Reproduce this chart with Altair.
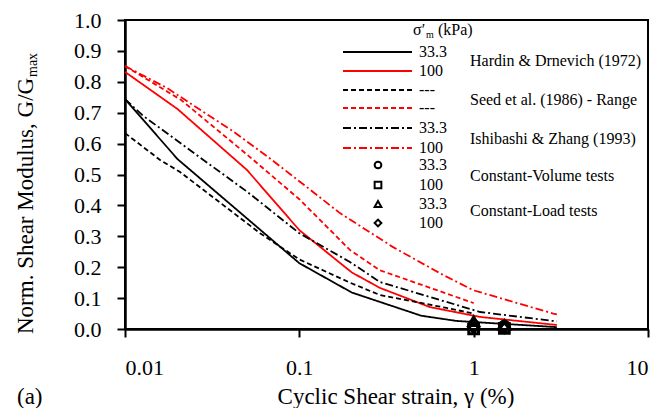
import altair as alt
import pandas as pd

# ---------------- data ----------------
hd33_gamma = [0.01, 0.02, 0.1, 0.2, 0.5, 0.8, 3.0]
hd33_G = [0.744, 0.55, 0.213, 0.118, 0.043, 0.026, 0.006]

hd100_gamma = [0.01, 0.02, 0.05, 0.1, 0.2, 0.29, 0.56, 1.09, 3.0]
hd100_G = [0.832, 0.712, 0.515, 0.32, 0.183, 0.133, 0.071, 0.039, 0.013]

seedlo_gamma = [0.01, 0.0159, 0.0207, 0.0595, 0.1, 0.195, 0.29, 0.7, 1.0]
seedlo_G = [0.634, 0.547, 0.508, 0.31, 0.225, 0.15, 0.11, 0.068, 0.05]

seedhi_gamma = [0.01, 0.021, 0.05, 0.1, 0.195, 0.29, 1.0]
seedhi_G = [0.851, 0.741, 0.565, 0.42, 0.256, 0.19, 0.084]

iz33_gamma = [0.01, 0.0127, 0.031, 0.05, 0.1, 0.195, 0.29, 1.09, 2.86, 3.0]
iz33_G = [0.744, 0.69, 0.53, 0.445, 0.31, 0.217, 0.152, 0.055, 0.026, 0.025]

iz100_gamma = [0.01, 0.0174, 0.0416, 0.065, 0.11, 0.171, 0.345, 0.667, 1.0, 2.86, 3.0]
iz100_G = [0.851, 0.78, 0.64, 0.56, 0.46, 0.375, 0.265, 0.175, 0.125, 0.05, 0.047]

cv33_gamma = [1.0, 1.5]
cv33_G = [0.012, 0.010]
cv100_gamma = [1.0, 1.5]
cv100_G = [0.0, 0.002]
cl33_gamma = [1.0, 1.5]
cl33_G = [0.025, 0.012]
cl100_gamma = [1.0, 1.5]
cl100_G = [0.005, 0.004]

x_ticks = [0.01, 0.1, 1, 10]
y_ticks = [0.0, 0.1, 0.2, 0.3, 0.4, 0.5, 0.6, 0.7, 0.8, 0.9, 1.0]

series_names = ["HD 33.3", "HD 100", "Seed lower", "Seed upper", "IZ 33.3", "IZ 100"]
series_data = [(hd33_gamma, hd33_G), (hd100_gamma, hd100_G), (seedlo_gamma, seedlo_G),
               (seedhi_gamma, seedhi_G), (iz33_gamma, iz33_G), (iz100_gamma, iz100_G)]
series_labels = ["33.3", "100", "---", "---", "33.3", "100"]

test_names = ["CV 33.3", "CV 100", "CL 33.3", "CL 100"]
test_data = [(cv33_gamma, cv33_G), (cv100_gamma, cv100_G), (cl33_gamma, cl33_G), (cl100_gamma, cl100_G)]
test_labels = ["33.3", "100", "33.3", "100"]

group_labels = ["Hardin & Drnevich (1972)", "Seed et al. (1986) - Range",
                "Ishibashi & Zhang (1993)", "Constant-Volume tests", "Constant-Load tests"]

# ---------------- styles ----------------
FONT = "Liberation Serif"
colors = ["#000000", "#ff0000", "#000000", "#ff0000", "#000000", "#ff0000"]
dashes = [[1, 0], [1, 0], [5, 3], [5, 3], [8, 3, 2, 3], [8, 3, 2, 3]]
shapes = ["circle", "square", "triangle-up", "diamond"]

W, H = 523, 309
LEFT, TOP = 125, 20

rows = []
for name, (gs, Gs) in zip(series_names, series_data):
    for g, G in zip(gs, Gs):
        rows.append({"series": name, "gamma": g, "G": G})
curves = pd.DataFrame(rows)

prow = []
for name, (gs, Gs) in zip(test_names, test_data):
    for g, G in zip(gs, Gs):
        prow.append({"test": name, "gamma": g, "G": G})
pts = pd.DataFrame(prow)

xscale = alt.Scale(type="log", domain=[0.01, 10], nice=False)
yscale = alt.Scale(domain=[0, 1], nice=False)

xaxis = alt.Axis(values=x_ticks, format=".2~f", title=None, labelPadding=20, labelOverlap=False)
yaxis = alt.Axis(values=y_ticks, format=".1f", title=None, labelPadding=16, labelOverlap=False)

lines = alt.Chart(curves).mark_line(strokeWidth=1.8, clip=False).encode(
    x=alt.X("gamma:Q", scale=xscale, axis=xaxis),
    y=alt.Y("G:Q", scale=yscale, axis=yaxis),
    color=alt.Color("series:N", scale=alt.Scale(domain=series_names, range=colors), legend=None),
    strokeDash=alt.StrokeDash("series:N", scale=alt.Scale(domain=series_names, range=dashes), legend=None),
    detail="series:N",
)

points = alt.Chart(pts).mark_point(filled=False, strokeWidth=3, size=95, color="black", opacity=1).encode(
    x=alt.X("gamma:Q", scale=xscale, axis=xaxis),
    y=alt.Y("G:Q", scale=yscale, axis=yaxis),
    shape=alt.Shape("test:N", scale=alt.Scale(domain=test_names, range=shapes), legend=None),
)

one = alt.Data(values=[{"a": 1}])
layers = [lines, points]


def txt(s, x, y, size=16, align="left", baseline="middle", angle=None, font=FONT):
    kw = dict(font=font, fontSize=size, align=align, baseline=baseline, color="black")
    if angle is not None:
        kw["angle"] = angle
    return alt.Chart(one).mark_text(**kw).encode(
        x=alt.value(x), y=alt.value(y), text=alt.value(s))


# legend: line samples
line_rows_y = [52, 71, 90, 108, 128, 148]
for i, ly in enumerate(line_rows_y):
    layers.append(
        alt.Chart(one).mark_rule(color=colors[i], strokeDash=dashes[i], strokeWidth=1.8).encode(
            x=alt.value(343 - LEFT), x2=alt.value(412 - LEFT), y=alt.value(ly - TOP)))
    layers.append(txt(series_labels[i], 419 - LEFT, ly - TOP))

mark_rows_y = [165, 185, 204, 223]
for i, my in enumerate(mark_rows_y):
    layers.append(
        alt.Chart(one).mark_point(shape=shapes[i], filled=False, strokeWidth=2, size=45, color="black", opacity=1).encode(
            x=alt.value(378 - LEFT), y=alt.value(my - TOP)))
    layers.append(txt(test_labels[i], 419 - LEFT, my - TOP))

group_y = [61, 100, 139, 176, 211]
for s, gy in zip(group_labels, group_y):
    layers.append(txt(s, 470 - LEFT, gy - TOP))

# legend title sigma'_m (kPa)
layers.append(txt("σ′", 413 - LEFT, 35 - TOP, baseline="alphabetic"))
layers.append(txt("m", 426 - LEFT, 38 - TOP, size=10, baseline="alphabetic"))
layers.append(txt("(kPa)", 438 - LEFT, 35 - TOP, baseline="alphabetic"))

# axis titles
layers.append(txt("Cyclic Shear strain, γ (%)", 396 - LEFT, 404 - TOP, size=23, align="center", baseline="alphabetic"))
layers.append(txt("(a)", 17 - LEFT, 404 - TOP, size=23, baseline="alphabetic"))
layers.append(txt("Norm. Shear Modulus, G/G", 33 - LEFT, 334 - TOP, size=23, baseline="alphabetic", angle=270))
layers.append(txt("max", 37 - LEFT, 77 - TOP, size=14, baseline="alphabetic", angle=270))

chart = alt.layer(*layers).properties(
    width=W, height=H,
    autosize=alt.AutoSizeParams(type="none"),
    padding={"left": LEFT, "top": TOP, "right": 666 - LEFT - W, "bottom": 408 - TOP - H},
).configure_view(
    stroke="black", strokeWidth=2
).configure_axis(
    grid=False, domainColor="black", domainWidth=2.5, tickColor="black", tickWidth=2,
    tickSize=8, labelFont=FONT, labelFontSize=22, labelColor="black",
)

chart.save("out.html", embed_options={"renderer": "svg", "actions": False})
